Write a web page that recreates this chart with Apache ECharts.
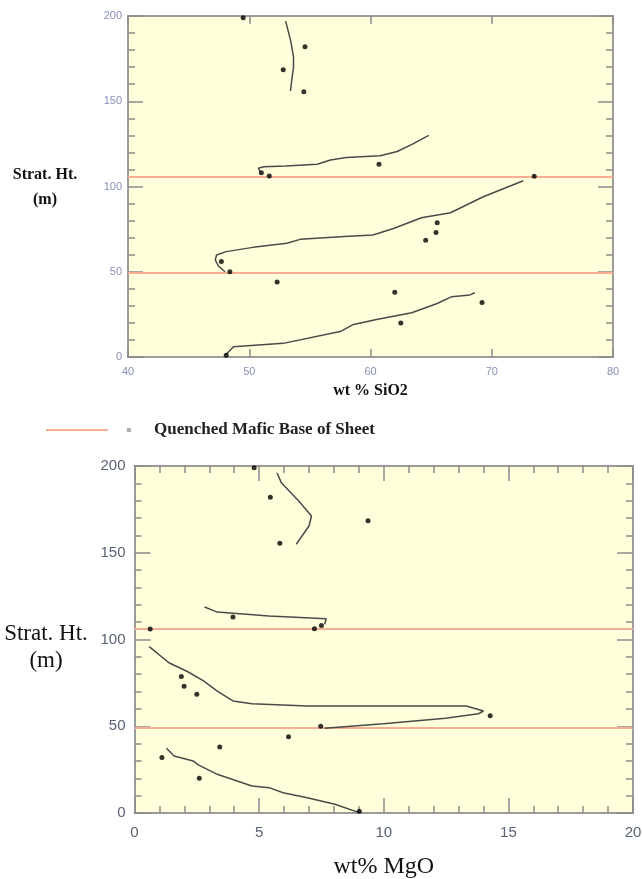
<!DOCTYPE html>
<html>
<head>
<meta charset="utf-8">
<script src="https://cdn.jsdelivr.net/npm/echarts@6/dist/echarts.min.js"></script>
<style>
html,body{margin:0;padding:0;background:#fff;}
#chart{width:642px;height:879px;}
</style>
</head>
<body>
<div id="chart"></div>
<script>
// ---- Sample data (same samples in both panels) ----
const stratHt = [199, 182, 168.5, 155.5, 113, 108, 106.2, 106, 78.7, 73, 68.5, 56, 50, 44, 38, 32, 20, 1];
const sio2    = [49.5, 54.6, 52.8, 54.5, 60.7, 51.0, 51.65, 73.5, 65.5, 65.4, 64.55, 47.7, 48.4, 52.3, 62.0, 69.2, 62.5, 48.1];
const mgo     = [4.8, 5.45, 9.37, 5.83, 3.95, 7.5, 7.22, 0.63, 1.88, 1.99, 2.5, 14.27, 7.47, 6.18, 3.42, 1.1, 2.6, 9.02];

// Quenched mafic base of sheet (strat. height, m)
const quenchedBaseHt = [106, 49.3];

// ---- Model profiles: SiO2 (wt%, height) ----
const sio2Profile1 = [[53.0,197],[53.4,186],[53.65,176],[53.65,170],[53.5,162],[53.4,156]];
const sio2Profile2 = [[64.8,130],[63.5,125],[62.2,120.5],[60.8,118],[58,117],[56.7,115.5],[55.6,113],[53,112],[51.2,111.6],[50.75,110.7],[50.9,108.7]];
const sio2Profile3 = [[72.6,103.4],[69.3,94],[66.6,84.6],[64.2,81.7],[61.9,75.4],[60.2,71.6],[57.5,70.6],[54.2,69],[53.1,66.7],[50.3,64.3],[48.1,61.8],[47.3,59.8],[47.2,56.9],[47.45,53.4],[48.0,50]];
const sio2Profile4 = [[48.1,1.6],[48.7,6],[52.8,8],[57.5,14.9],[58.6,19.1],[60.5,22],[63.4,26],[65.5,31.4],[66.7,35.4],[68.2,36.4],[68.6,37.7]];

// ---- Model profiles: MgO (wt%, height) ----
const mgoProfile1 = [[5.72,196],[5.89,190.4],[6.59,179.8],[7.1,171.2],[7.0,165.4],[6.49,154.9]];
const mgoProfile2 = [[2.81,118.7],[3.32,115.8],[5.4,113.5],[7.69,112],[7.76,111.1],[7.63,108.8]];
const mgoProfile3 = [[0.59,95.9],[1.38,86.6],[2.14,81.4],[2.77,76.1],[3.32,70.3],[3.95,64.6],[4.71,63],[6.93,61.7],[13.31,61.7],[14.0,58.8],[13.8,57.2],[12.48,54.6],[9.98,51.5],[7.63,48.8]];
const mgoProfile4 = [[1.28,37.3],[1.59,32.9],[2.35,30],[2.56,27.7],[3.32,22.3],[4.71,15.6],[5.4,14.6],[5.96,11.7],[6.93,8.8],[8.04,5],[9.01,0.2]];

// ---- Axis settings ----
const sio2Range = [40, 80], sio2Step = 10;
const mgoRange = [0, 20], mgoStep = 5;
const htRange = [0, 200], htStep = 50;

const legendName = 'Quenched Mafic Base of Sheet';
const yTitle = 'Strat. Ht.\n(m)';
const serif = '"Liberation Serif", "Times New Roman", serif';
const sans = '"Liberation Sans", Arial, sans-serif';
const frame = '#9c9c9c';
const tickCol = '#8c8c8c';
const orange = '#F7AE92';
const profileCol = '#4a4a4a';

function axisBase(extra) {
  return Object.assign({
    type: 'value',
    splitLine: { show: false },
    axisLine: { show: true, onZero: false, lineStyle: { color: frame, width: 2 } }
  }, extra);
}

const chart = echarts.init(document.getElementById('chart'), null, { renderer: 'canvas' });

const topLabel = { color: '#8a90b8', fontFamily: sans, fontSize: 11 };
const botLabel = { color: '#596273', fontFamily: sans, fontSize: 15 };

function pairs(xs, ys) { return xs.map((x, i) => [x, ys[i]]); }

const option = {
  animation: false,
  backgroundColor: '#ffffff',
  grid: [
    { left: 128, top: 16, width: 485, height: 341, show: true, backgroundColor: '#FFFFDB', borderWidth: 0, outerBoundsMode: 'none', containLabel: false },
    { left: 134.5, top: 466, width: 498.5, height: 347, show: true, backgroundColor: '#FFFFDB', borderWidth: 0, outerBoundsMode: 'none', containLabel: false }
  ],
  xAxis: [
    axisBase({ gridIndex: 0, position: 'bottom', min: sio2Range[0], max: sio2Range[1], interval: sio2Step,
      name: 'wt % SiO2', nameLocation: 'middle', nameGap: 26,
      nameTextStyle: { fontFamily: serif, fontWeight: 'bold', fontSize: 16, color: '#111' },
      axisTick: { show: true, inside: true, length: 8, lineStyle: { color: tickCol, width: 1.5 } },
      axisLabel: Object.assign({ margin: 9 }, topLabel) }),
    axisBase({ gridIndex: 0, position: 'top', min: sio2Range[0], max: sio2Range[1], interval: sio2Step,
      axisTick: { show: true, inside: true, length: 8, lineStyle: { color: tickCol, width: 1.5 } },
      axisLabel: { show: false } }),
    axisBase({ gridIndex: 1, position: 'bottom', min: mgoRange[0], max: mgoRange[1], interval: mgoStep,
      name: 'wt% MgO', nameLocation: 'middle', nameGap: 42,
      nameTextStyle: { fontFamily: serif, fontSize: 24, color: '#111' },
      axisTick: { show: true, inside: true, length: 15, lineStyle: { color: tickCol, width: 1.5 } },
      minorTick: { show: true, splitNumber: 5, length: 7, lineStyle: { color: tickCol, width: 1.5 } },
      axisLabel: Object.assign({ margin: 12 }, botLabel) }),
    axisBase({ gridIndex: 1, position: 'top', min: mgoRange[0], max: mgoRange[1], interval: mgoStep,
      axisTick: { show: true, inside: true, length: 15, lineStyle: { color: tickCol, width: 1.5 } },
      minorTick: { show: true, splitNumber: 5, length: 7, lineStyle: { color: tickCol, width: 1.5 } },
      axisLabel: { show: false } })
  ],
  yAxis: [
    axisBase({ gridIndex: 0, position: 'left', min: htRange[0], max: htRange[1], interval: htStep,
      axisTick: { show: true, inside: true, length: 15, lineStyle: { color: tickCol, width: 1.5 } },
      minorTick: { show: true, splitNumber: 5, length: 7, lineStyle: { color: tickCol, width: 1.5 } },
      axisLabel: Object.assign({ margin: 6 }, topLabel) }),
    axisBase({ gridIndex: 0, position: 'right', min: htRange[0], max: htRange[1], interval: htStep,
      axisTick: { show: true, inside: true, length: 15, lineStyle: { color: tickCol, width: 1.5 } },
      minorTick: { show: true, splitNumber: 5, length: 7, lineStyle: { color: tickCol, width: 1.5 } },
      axisLabel: { show: false } }),
    axisBase({ gridIndex: 1, position: 'left', min: htRange[0], max: htRange[1], interval: htStep,
      axisTick: { show: true, inside: true, length: 16, lineStyle: { color: tickCol, width: 1.5 } },
      minorTick: { show: true, splitNumber: 5, length: 7, lineStyle: { color: tickCol, width: 1.5 } },
      axisLabel: Object.assign({ margin: 9 }, botLabel) }),
    axisBase({ gridIndex: 1, position: 'right', min: htRange[0], max: htRange[1], interval: htStep,
      axisTick: { show: true, inside: true, length: 16, lineStyle: { color: tickCol, width: 1.5 } },
      minorTick: { show: true, splitNumber: 5, length: 7, lineStyle: { color: tickCol, width: 1.5 } },
      axisLabel: { show: false } })
  ],
  legend: {
    data: [legendName],
    left: 46, top: 420, padding: 0,
    icon: 'rect', itemWidth: 62, itemHeight: 2,
    textStyle: { fontFamily: serif, fontWeight: 'bold', fontSize: 17, lineHeight: 20, color: '#222', padding: [0, 0, 0, 41] },
    selectedMode: false
  },
  graphic: [
    { type: 'rect', left: 127, top: 428, shape: { width: 4, height: 4 }, style: { fill: '#b0b0b0' }, silent: true },
    { type: 'text', x: 45, y: 162, silent: true,
      style: { text: yTitle, fill: '#111', font: 'bold 16px ' + serif, lineHeight: 25, align: 'center', verticalAlign: 'top' } },
    { type: 'text', x: 46, y: 620, silent: true,
      style: { text: yTitle, fill: '#111', font: '23px ' + serif, lineHeight: 27, align: 'center', verticalAlign: 'top' } }
  ],
  series: []
};

function baseSeries(gi) {
  return {
    name: legendName, type: 'line', xAxisIndex: gi * 2, yAxisIndex: gi * 2, data: [],
    color: orange, z: 1, silent: true,
    markLine: { silent: true, z: 1, symbol: 'none', label: { show: false },
      lineStyle: { color: orange, width: 2, type: 'solid' },
      data: quenchedBaseHt.map(v => ({ yAxis: v })) }
  };
}
function profile(gi, d) {
  return { type: 'line', xAxisIndex: gi * 2, yAxisIndex: gi * 2, data: d, showSymbol: false, symbol: 'none',
    lineStyle: { color: profileCol, width: 1.5 }, z: 3, silent: true, clip: false };
}
function points(gi, d) {
  return { type: 'scatter', xAxisIndex: gi * 2, yAxisIndex: gi * 2, data: d, symbol: 'circle', symbolSize: 5,
    itemStyle: { color: '#000' }, z: 6, silent: true, clip: false };
}

option.series.push(baseSeries(0), baseSeries(1));
[sio2Profile1, sio2Profile2, sio2Profile3, sio2Profile4].forEach(p => option.series.push(profile(0, p)));
[mgoProfile1, mgoProfile2, mgoProfile3, mgoProfile4].forEach(p => option.series.push(profile(1, p)));
option.series.push(points(0, pairs(sio2, stratHt)));
option.series.push(points(1, pairs(mgo, stratHt)));

chart.setOption(option);
</script>
</body>
</html>
